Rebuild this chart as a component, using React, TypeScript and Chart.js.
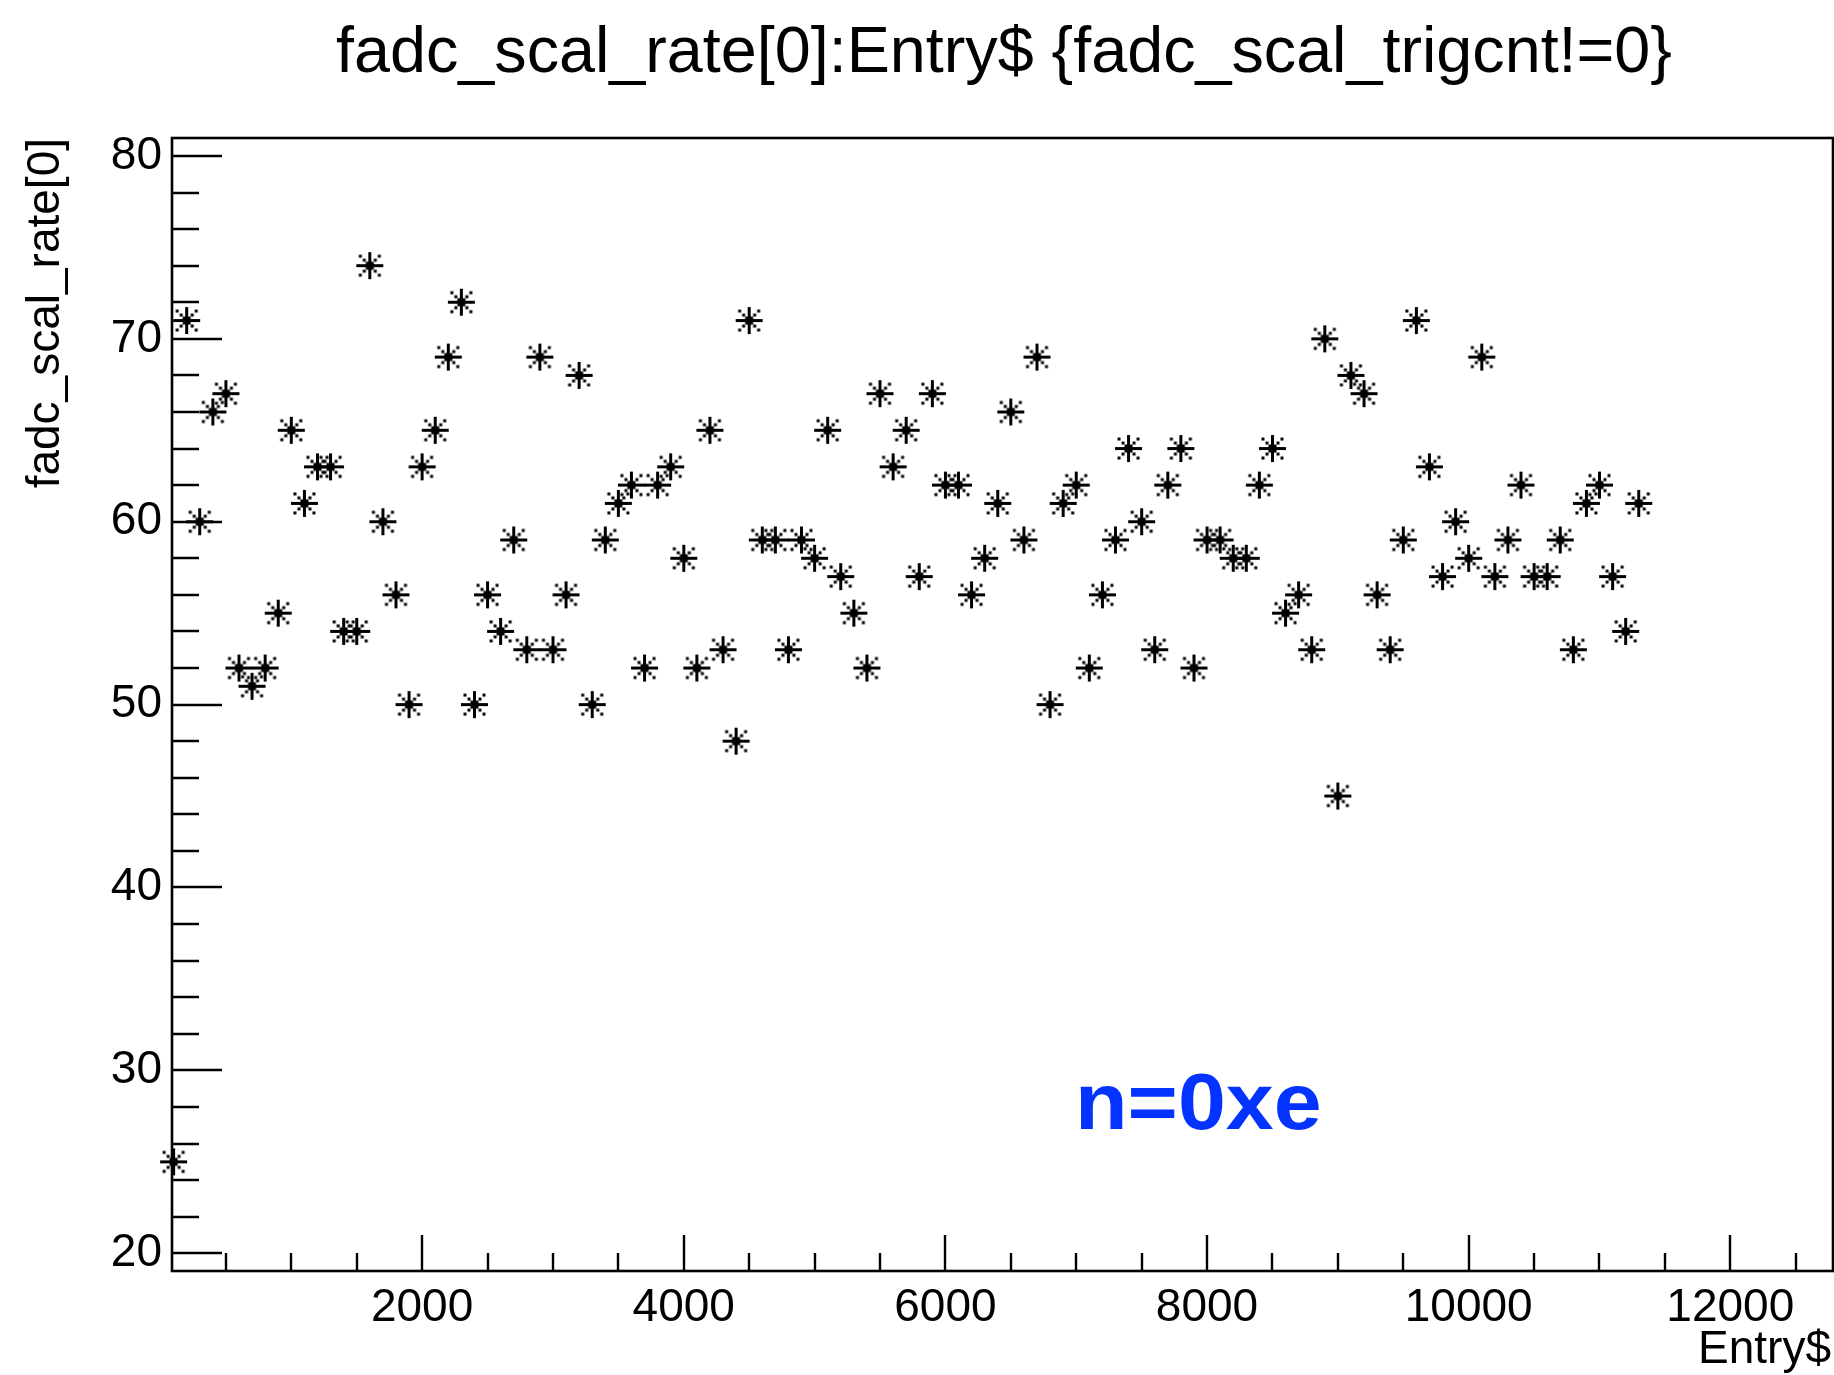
import React, { useEffect, useRef } from 'react';
import { Chart, registerables } from 'chart.js';

Chart.register(...registerables);

// ---- data ----
const ENTRIES = [
  100, 200, 300, 400, 500, 600, 700, 800, 900, 1000,
  1100, 1200, 1300, 1400, 1500, 1600, 1700, 1800, 1900, 2000,
  2100, 2200, 2300, 2400, 2500, 2600, 2700, 2800, 2900, 3000,
  3100, 3200, 3300, 3400, 3500, 3600, 3700, 3800, 3900, 4000,
  4100, 4200, 4300, 4400, 4500, 4600, 4700, 4800, 4900, 5000,
  5100, 5200, 5300, 5400, 5500, 5600, 5700, 5800, 5900, 6000,
  6100, 6200, 6300, 6400, 6500, 6600, 6700, 6800, 6900, 7000,
  7100, 7200, 7300, 7400, 7500, 7600, 7700, 7800, 7900, 8000,
  8100, 8200, 8300, 8400, 8500, 8600, 8700, 8800, 8900, 9000,
  9100, 9200, 9300, 9400, 9500, 9600, 9700, 9800, 9900, 10000,
  10100, 10200, 10300, 10400, 10500, 10600, 10700, 10800, 10900, 11000,
  11100, 11200, 11300,
];

const RATES = [
  25, 71, 60, 66, 67, 52, 51, 52, 55, 65,
  61, 63, 63, 54, 54, 74, 60, 56, 50, 63,
  65, 69, 72, 50, 56, 54, 59, 53, 69, 53,
  56, 68, 50, 59, 61, 62, 52, 62, 63, 58,
  52, 65, 53, 48, 71, 59, 59, 53, 59, 58,
  65, 57, 55, 52, 67, 63, 65, 57, 67, 62,
  62, 56, 58, 61, 66, 59, 69, 50, 61, 62,
  52, 56, 59, 64, 60, 53, 62, 64, 52, 59,
  59, 58, 58, 62, 64, 55, 56, 53, 70, 45,
  68, 67, 56, 53, 59, 71, 63, 57, 60, 58,
  69, 57, 59, 62, 57, 57, 59, 53, 61, 62,
  57, 54, 61,
];

const X_TICKS = [2000, 4000, 6000, 8000, 10000, 12000];
const Y_TICKS = [20, 30, 40, 50, 60, 70, 80];
const X_RANGE = [88, 12785];
const Y_RANGE = [19.03, 80.98];
const X_MINOR_STEP = 500;
const Y_MINOR_STEP = 2;

const TITLE = 'fadc_scal_rate[0]:Entry$ {fadc_scal_trigcnt!=0}';
const X_TITLE = 'Entry$';
const Y_TITLE = 'fadc_scal_rate[0]';
const NOTE = 'n=0xe';

const FONT = '"Liberation Sans", Arial, Helvetica, sans-serif';
const NOTE_COLOR = 'rgb(4, 51, 255)';

function makeMarker(): HTMLCanvasElement {
  const s = 29;
  const c = document.createElement('canvas');
  c.width = s;
  c.height = s;
  const g = c.getContext('2d')!;
  const m = s / 2;
  g.fillStyle = '#000';
  g.fillRect(1, m - 1.5, s - 2, 3);
  g.fillRect(m - 1.5, 1, 3, s - 2);
  g.fillRect(m - 4, m - 4, 8, 8);
  const dirs = [[1, 1], [1, -1], [-1, 1], [-1, -1]];
  for (const [dx, dy] of dirs) {
    for (const d of [5.5, 9.5]) {
      g.fillRect(m + dx * d - 1.5, m + dy * d - 1.5, 3, 3);
    }
  }
  return c;
}

const rootFrame = {
  id: 'rootFrame',
  beforeDatasetsDraw(chart: any) {
    const { ctx, chartArea: a, scales } = chart;
    const xs = scales.x;
    const ys = scales.y;
    ctx.save();
    ctx.strokeStyle = '#000';
    ctx.lineWidth = 2.6;
    ctx.strokeRect(a.left, a.top, a.right - a.left, a.bottom - a.top);
    ctx.lineWidth = 2.4;
    ctx.beginPath();
    const yMajor = Y_TICKS[1] - Y_TICKS[0];
    for (let v = Y_TICKS[0]; v <= Y_TICKS[Y_TICKS.length - 1] + 1e-9; v += Y_MINOR_STEP) {
      const y = Math.round(ys.getPixelForValue(v));
      const len = Math.abs(v % yMajor) < 1e-9 ? 50 : 27;
      ctx.moveTo(a.left, y);
      ctx.lineTo(a.left + len, y);
    }
    const xMajor = X_TICKS[1] - X_TICKS[0];
    for (let v = X_MINOR_STEP; v < xs.max; v += X_MINOR_STEP) {
      if (v < xs.min) continue;
      const x = Math.round(xs.getPixelForValue(v));
      const len = v % xMajor === 0 ? 36 : 18;
      ctx.moveTo(x, a.bottom);
      ctx.lineTo(x, a.bottom - len);
    }
    ctx.stroke();
    ctx.restore();
  },
  afterDraw(chart: any) {
    const { ctx, chartArea: a } = chart;
    ctx.save();
    ctx.fillStyle = '#000';
    ctx.textBaseline = 'alphabetic';

    ctx.font = `64.7px ${FONT}`;
    ctx.textAlign = 'center';
    ctx.fillText(TITLE, 1004, 72);

    ctx.font = `46px ${FONT}`;
    ctx.textAlign = 'right';
    ctx.fillText(X_TITLE, 1831, 1363);

    ctx.save();
    ctx.translate(59, a.top);
    ctx.rotate(-Math.PI / 2);
    ctx.textAlign = 'right';
    ctx.fillText(Y_TITLE, 0, 0);
    ctx.restore();

    ctx.save();
    ctx.translate(1075, 1129);
    ctx.scale(1.09, 1);
    ctx.font = `bold 79px ${FONT}`;
    ctx.fillStyle = NOTE_COLOR;
    ctx.textAlign = 'left';
    ctx.fillText(NOTE, 0, 0);
    ctx.restore();
    ctx.restore();
  },
};

const zeroPad = (s: any) => {
  s.paddingLeft = 0;
  s.paddingRight = 0;
  s.paddingTop = 0;
  s.paddingBottom = 0;
};

export default function App() {
  const ref = useRef<HTMLCanvasElement | null>(null);

  useEffect(() => {
    document.body.style.margin = '0';
    document.body.style.overflow = 'hidden';
    document.body.style.background = '#fff';
    const canvas = ref.current;
    if (!canvas) return;
    const marker = makeMarker();
    const chart = new Chart(canvas, {
      type: 'scatter',
      data: {
        datasets: [
          {
            data: ENTRIES.map((x, i) => ({ x, y: RATES[i] })),
            pointStyle: marker as any,
            pointRadius: 14,
            pointHoverRadius: 14,
            pointBorderWidth: 0,
            borderColor: '#000',
            backgroundColor: '#000',
            showLine: false,
            clip: false as any,
          },
        ],
      },
      options: {
        responsive: false,
        animation: false,
        events: [],
        layout: { autoPadding: false, padding: { top: 138, right: 1, left: 0, bottom: 0 } },
        plugins: {
          legend: { display: false },
          title: { display: false },
          tooltip: { enabled: false },
        },
        scales: {
          x: {
            type: 'linear',
            position: 'bottom',
            min: X_RANGE[0],
            max: X_RANGE[1],
            afterFit: (s: any) => {
              s.height = 104;
              zeroPad(s);
            },
            afterBuildTicks: (s: any) => {
              s.ticks = X_TICKS.map((v) => ({ value: v }));
            },
            grid: { display: false, drawTicks: false },
            border: { display: false },
            ticks: {
              color: '#000',
              font: { family: FONT, size: 46 },
              padding: 10,
              maxRotation: 0,
              autoSkip: false,
              callback: (v: any) => String(v),
            },
          },
          y: {
            type: 'linear',
            position: 'left',
            min: Y_RANGE[0],
            max: Y_RANGE[1],
            afterFit: (s: any) => {
              s.width = 172;
              zeroPad(s);
            },
            afterBuildTicks: (s: any) => {
              s.ticks = Y_TICKS.map((v) => ({ value: v }));
            },
            grid: { display: false, drawTicks: false },
            border: { display: false },
            ticks: {
              color: '#000',
              font: { family: FONT, size: 46 },
              padding: 10,
              autoSkip: false,
              callback: (v: any) => String(v),
            },
          },
        },
      },
      plugins: [rootFrame],
    });
    return () => chart.destroy();
  }, []);

  return (
    <canvas
      ref={ref}
      width={1834}
      height={1375}
      style={{ display: 'block', width: 1834, height: 1375 }}
    />
  );
}
